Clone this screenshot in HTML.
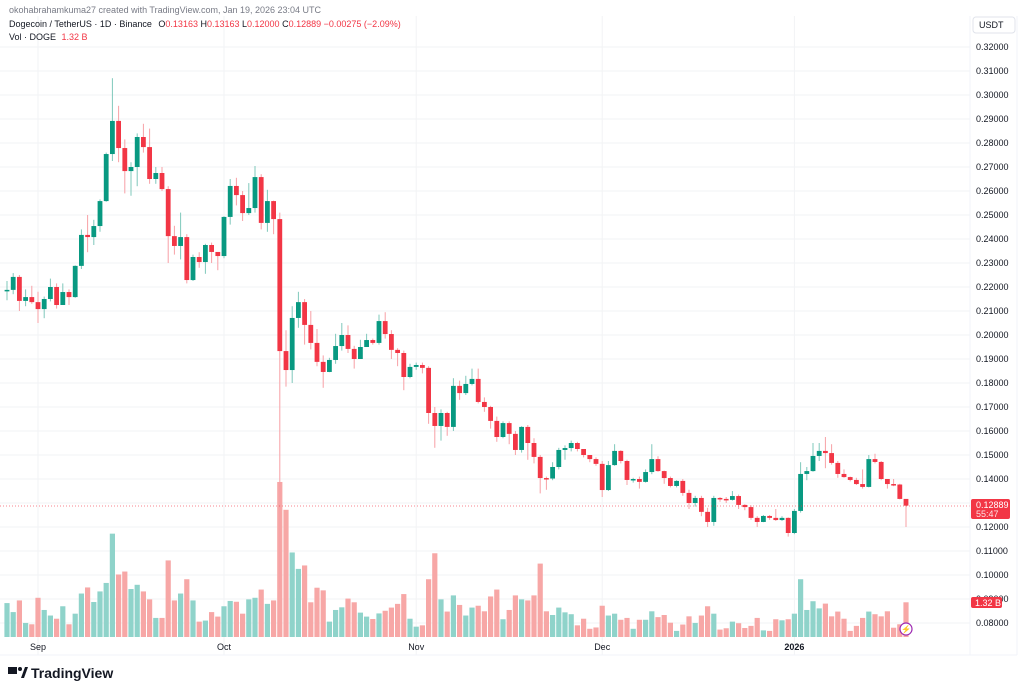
<!DOCTYPE html>
<html><head><meta charset="utf-8">
<style>
html,body{margin:0;padding:0;background:#fff;width:1024px;height:691px;overflow:hidden;font-family:"Liberation Sans",sans-serif;}
svg{display:block}
</style></head>
<body>
<svg id="chart" width="1024" height="691" viewBox="0 0 1024 691" xmlns="http://www.w3.org/2000/svg">
  <rect x="0" y="0" width="1024" height="691" fill="#ffffff"/>
  <g id="grid"></g>
  <g id="volumes"></g>
  <g id="candles"></g>
  <line x1="0" y1="506" x2="970" y2="506" stroke="#f23645" stroke-width="1" stroke-dasharray="1,2" opacity="0.6"/>
  <line x1="970" y1="16" x2="970" y2="655" stroke="#f0f3fa"/>
  <line x1="1017" y1="16" x2="1017" y2="655" stroke="#f0f3fa"/>
  <line x1="0" y1="655" x2="1017" y2="655" stroke="#f0f3fa"/>
  <g id="yaxis"></g>
  <g id="xaxis"></g>
  <rect x="973" y="17" width="42" height="16" rx="3" fill="#fff" stroke="#e0e3eb"/>
  <text x="979" y="28" font-size="9" fill="#131722">USDT</text>
  <rect x="971" y="499" width="39" height="20" rx="2" fill="#f23645"/>
  <text x="976" y="508" font-size="9" fill="#fff">0.12889</text>
  <text x="976" y="517" font-size="9" fill="#fde1e3">55:47</text>
  <rect x="971" y="597" width="31" height="11" rx="2" fill="#f23645"/>
  <text x="975" y="606" font-size="9" fill="#fff">1.32 B</text>
  <circle cx="906" cy="629" r="6" fill="#fff" stroke="#9c27b0" stroke-width="1.2"/>
  <text x="906" y="632" font-size="8" fill="#9c27b0" text-anchor="middle">⚡</text>
  <text x="9" y="13" font-size="9" fill="#787b86">okohabrahamkuma27 created with TradingView.com, Jan 19, 2026 23:04 UTC</text>
  <text x="9" y="27" font-size="9" fill="#131722">Dogecoin / TetherUS · 1D · Binance <tspan dx="4">O</tspan><tspan fill="#f23645">0.13163</tspan> H<tspan fill="#f23645">0.13163</tspan> L<tspan fill="#f23645">0.12000</tspan> C<tspan fill="#f23645">0.12889</tspan> <tspan fill="#f23645">−0.00275 (−2.09%)</tspan></text>
  <text x="9" y="40" font-size="9" fill="#131722">Vol · DOGE <tspan dx="3" fill="#f23645">1.32 B</tspan></text>
  <g>
    <rect x="8" y="667" width="9" height="7" fill="#131722"/>
    <circle cx="20" cy="669" r="2" fill="#131722"/>
    <polygon points="21,678 25,667 28,667 24,678" fill="#131722"/>
    <text x="31" y="678" font-size="14" font-weight="bold" fill="#131722">TradingView</text>
  </g>
</svg>
<script>
const closes=[.2188,.2242,.2142,.2158,.2137,.2108,.2150,.2200,.2125,.2179,.2158,.2288,.2417,.2408,.2454,.2558,.2754,.2892,.2779,.2683,
.2700,.2825,.2783,.2650,.2675,.2608,.2412,.2371,.2408,.2229,.2325,.2304,.2375,.2346,.2329,.2492,.2621,.2583,.2508,.2529,
.2658,.2467,.2558,.2483,.1933,.1854,.2071,.2137,.2042,.1967,.1888,.1846,.1896,.1954,.2000,.1942,.1900,.1950,.1979,.1967,
.2058,.2004,.1938,.1925,.1825,.1867,.1875,.1863,.1675,.1621,.1675,.1617,.1788,.1758,.1796,.1817,.1721,.1700,.1642,.1575,
.1633,.1588,.1521,.1617,.1550,.1492,.1404,.1402,.1450,.1521,.1529,.1550,.1525,.1500,.1483,.1463,.1354,.1458,.1517,.1475,
.1396,.1400,.1388,.1429,.1483,.1433,.1404,.1371,.1392,.1342,.1300,.1321,.1263,.1221,.1321,.1317,.1313,.1329,.1292,.1283,
.1238,.1221,.1246,.1238,.1229,.1238,.1175,.1267,.1421,.1433,.1496,.1517,.1508,.1467,.1421,.1408,.1396,.1379,.1367,.1483,
.1471,.1400,.1379,.1377,.1317,.1289];
const firstOpen=.2186;
const highs=[.2225,.2258,.2250,.2190,.2205,.2180,.2160,.2235,.2215,.2215,.2190,.2290,.2440,.2500,.2480,.2565,.2760,.3070,.2955,.2815,
.2720,.2840,.2880,.2860,.2700,.2700,.2620,.2455,.2510,.2420,.2335,.2345,.2380,.2385,.2345,.2495,.2650,.2655,.2600,.2633,
.2704,.2670,.2605,.2560,.2510,.2020,.2120,.2180,.2150,.2100,.2025,.1915,.1905,.2005,.2050,.2040,.1955,.1980,.2005,.1985,
.2085,.2095,.2020,.1945,.1935,.1880,.1885,.1885,.1870,.1700,.1690,.1680,.1820,.1810,.1830,.1860,.1860,.1740,.1705,.1660,
.1640,.1640,.1600,.1620,.1625,.1570,.1500,.1410,.1470,.1530,.1540,.1560,.1555,.1510,.1500,.1490,.1475,.1475,.1545,.1520,
.1480,.1405,.1410,.1440,.1545,.1495,.1435,.1410,.1395,.1400,.1355,.1330,.1330,.1280,.1330,.1325,.1325,.1350,.1335,.1295,
.1290,.1245,.1250,.1250,.1275,.1245,.1240,.1275,.1470,.1450,.1550,.1550,.1575,.1545,.1475,.1440,.1410,.1405,.1440,.1500,
.1505,.1475,.1400,.1400,.1380,.1316];
const lows=[.2145,.2170,.2100,.2120,.2130,.2050,.2070,.2140,.2110,.2135,.2125,.2155,.2275,.2345,.2375,.2430,.2555,.2725,.2720,.2590,
.2580,.2620,.2760,.2630,.2630,.2600,.2300,.2335,.2315,.2215,.2225,.2280,.2255,.2300,.2270,.2320,.2460,.2540,.2475,.2500,
.2510,.2440,.2430,.2420,.0940,.1785,.1800,.2030,.1960,.1940,.1870,.1780,.1845,.1880,.1935,.1925,.1860,.1900,.1955,.1960,
.1960,.1985,.1900,.1870,.1770,.1820,.1855,.1840,.1630,.1530,.1560,.1580,.1600,.1730,.1750,.1790,.1715,.1680,.1610,.1555,
.1570,.1545,.1500,.1510,.1480,.1465,.1340,.1355,.1395,.1440,.1480,.1515,.1515,.1490,.1470,.1455,.1325,.1350,.1455,.1465,
.1375,.1385,.1360,.1385,.1420,.1430,.1380,.1365,.1365,.1330,.1275,.1285,.1245,.1200,.1205,.1305,.1300,.1310,.1275,.1270,
.1230,.1200,.1220,.1230,.1225,.1225,.1160,.1170,.1260,.1395,.1430,.1475,.1445,.1460,.1405,.1405,.1390,.1375,.1360,.1365,
.1465,.1395,.1360,.1370,.1315,.1200];
const volumes=[1.28,0.94,1.38,0.53,0.48,1.48,1.02,0.81,0.69,1.16,0.48,0.88,1.64,1.87,1.32,1.72,2.04,3.90,2.36,2.47,
1.81,1.97,1.72,1.42,0.72,0.72,2.89,1.38,1.64,2.18,1.38,0.58,0.62,0.94,0.77,1.16,1.36,1.33,0.88,1.42,
1.48,1.79,1.25,1.38,5.85,4.80,3.19,2.57,2.70,1.31,1.86,1.76,0.58,1.02,1.12,1.45,1.31,0.92,0.77,0.68,
0.89,0.99,1.11,1.25,1.62,0.69,0.39,0.44,2.18,3.16,1.42,0.96,1.57,1.21,0.81,1.11,1.18,0.97,1.53,1.79,
0.67,1.02,1.57,1.42,1.38,1.57,2.77,0.97,0.83,1.11,0.93,0.86,0.44,0.69,0.31,0.36,1.18,0.81,0.88,0.65,
0.72,0.31,0.65,0.65,0.97,0.75,0.83,0.54,0.23,0.47,0.78,0.53,0.81,1.16,0.88,0.28,0.33,0.58,0.52,0.34,
0.42,0.72,0.25,0.23,0.67,0.63,0.67,0.88,2.18,1.02,1.35,1.08,1.26,0.78,0.96,0.69,0.23,0.42,0.72,0.96,
0.86,0.78,0.97,0.35,0.48,1.31];
const priceTicks=[0.32,0.31,0.30,0.29,0.28,0.27,0.26,0.25,0.24,0.23,0.22,0.21,0.20,0.19,0.18,0.17,0.16,0.15,0.14,0.12,0.11,0.10,0.09,0.08];
const monthLabels=["Sep","Oct","Nov","Dec","2026"];
const monthIndex=[5,35,66,96,127];

const NS="http://www.w3.org/2000/svg";
function yP(p){return 47+(0.32-p)*2400;}
function xI(i){return 7+i*6.2;}
function yV(v){return 637-v*26.5;}
function mk(tag,attrs,parent){const e=document.createElementNS(NS,tag);for(const k in attrs)e.setAttribute(k,attrs[k]);parent.appendChild(e);return e;}
const grid=document.getElementById('grid'),yax=document.getElementById('yaxis'),xax=document.getElementById('xaxis');
const cg=document.getElementById('candles'),vg=document.getElementById('volumes');
priceTicks.concat([0.13]).forEach(p=>{
  const l=mk('line',{x1:0,x2:970,y1:yP(p),y2:yP(p),stroke:'#f2f3f5','stroke-width':1},grid);
  
  
});
priceTicks.forEach(p=>{
  const t=mk('text',{x:976,y:yP(p)+3,'font-size':9,fill:'#131722'},yax);
  t.textContent=p.toFixed(5);
  
  
});
monthLabels.forEach((m,k)=>{
  const x=xI(monthIndex[k]);
  const l=mk('line',{x1:x,x2:x,y1:16,y2:655,stroke:'#f2f3f5'},grid);
  
  
  const t=mk('text',{x:x,y:650,'font-size':9,fill:'#131722','text-anchor':'middle','font-weight':m==='2026'?'bold':'normal'},xax);
  t.textContent=m;
  
  
});
closes.forEach((c,i)=>{
  const o=i===0?firstOpen:closes[i-1];
  const up=c>=o;
  const col=up?'#089981':'#f23645';
  const x=xI(i);
  const vb=mk('rect',{x:x-2.6,y:yV(volumes[i]),width:5.2,height:637-yV(volumes[i]),fill:up?'#8fd3ca':'#f7a7a6'},vg);
  
  
  const w=mk('line',{x1:x,x2:x,y1:yP(highs[i]),y2:yP(lows[i]),stroke:up?'#7fc8bb':'#f7a0a6','stroke-width':1},cg);
  
  
  const top=yP(Math.max(o,c)),bot=yP(Math.min(o,c));
  const b=mk('rect',{x:x-2.4,y:top,width:4.8,height:Math.max(1.5,bot-top),fill:col},cg);
  
  
});
</script>
</body></html>
